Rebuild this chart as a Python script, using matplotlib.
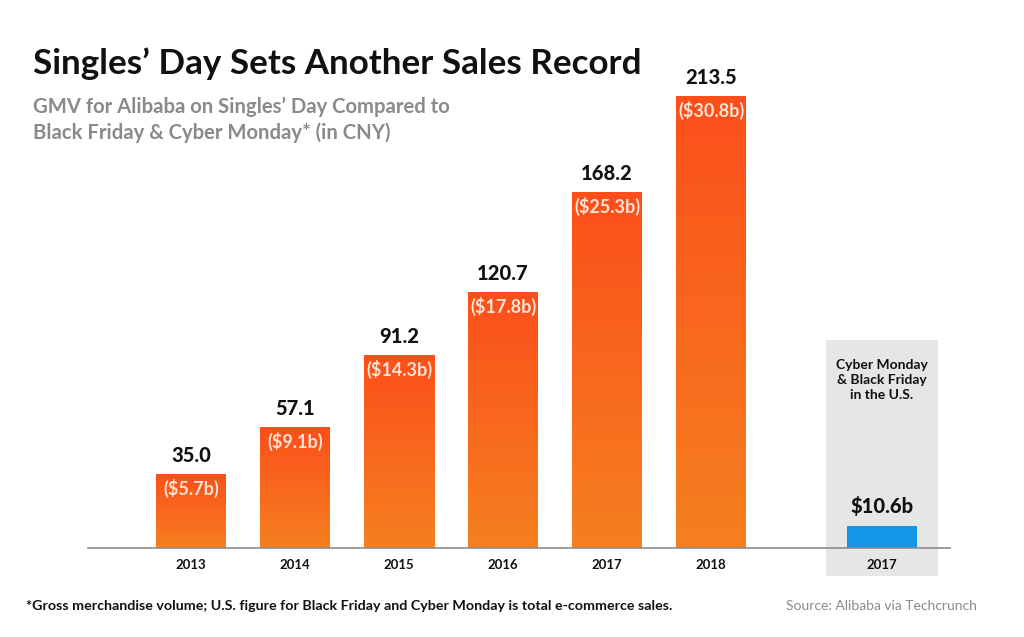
import matplotlib
matplotlib.use("Agg")
import matplotlib.pyplot as plt
import numpy as np
from matplotlib.patches import Rectangle
from matplotlib.colors import LinearSegmentedColormap

years = ["2013", "2014", "2015", "2016", "2017", "2018"]
gmv_cny = [35.0, 57.1, 91.2, 120.7, 168.2, 213.5]
gmv_usd = ["($5.7b)", "($9.1b)", "($14.3b)", "($17.8b)", "($25.3b)", "($30.8b)"]
us_year = "2017"
us_value = 10.6
us_label = "$10.6b"

W, H = 1024, 637
fig = plt.figure(figsize=(W / 100, H / 100), dpi=100)
fig.patch.set_facecolor("white")

FONT = "Lato"

def fx(px):
    return px / W

def fy(py):
    return 1 - py / H

ax_left, ax_right, ax_top, ax_bot = 88, 950, 60, 548
ax = fig.add_axes([fx(ax_left), fy(ax_bot), fx(ax_right - ax_left), (ax_bot - ax_top) / H])
ppu_x = 104.0
x0 = 191.0
ax.set_xlim((ax_left - x0) / ppu_x, (ax_right - x0) / ppu_x)
ppu_y = 2.117
ax.set_ylim(0, (ax_bot - ax_top) / ppu_y)
for s in ["top", "right", "left"]:
    ax.spines[s].set_visible(False)
ax.spines["bottom"].set_color("#8c8c8c")
ax.spines["bottom"].set_linewidth(1.2)
ax.spines["bottom"].set_zorder(5)
ax.set_yticks([])

xs = np.arange(len(years), dtype=float)
us_x = 6.64
bw = 70 / ppu_x

# gray panel
panel_x0 = (826 - x0) / ppu_x
panel_x1 = (938 - x0) / ppu_x
panel_y1 = (548 - 340) / ppu_y
panel_y0 = (548 - 576) / ppu_y
ax.add_patch(Rectangle((panel_x0, panel_y0), panel_x1 - panel_x0, panel_y1 - panel_y0,
                       facecolor="#e6e6e6", edgecolor="none", zorder=0, clip_on=False))

cmap = LinearSegmentedColormap.from_list("og", ["#f58020", "#fc4f1b"])
grad = np.linspace(0, 1, 256).reshape(-1, 1)

bars = ax.bar(xs, gmv_cny, width=bw, color="none", edgecolor="none", zorder=2)
for b, v in zip(bars, gmv_cny):
    x_l = b.get_x()
    im = ax.imshow(grad, extent=[x_l, x_l + b.get_width(), 0, v], origin="lower",
                   aspect="auto", cmap=cmap, zorder=2)
    im.set_clip_path(b)

ax.bar([us_x], [us_value], width=bw, color="#1496e6", edgecolor="none", zorder=2)

for x, v, u in zip(xs, gmv_cny, gmv_usd):
    ax.text(x, v + 4.3, f"{v:.1f}", ha="center", va="bottom", fontsize=14.5,
            fontweight="black", family=FONT, color="#111111", zorder=4)
    ax.text(x, v - 6.8, u, ha="center", va="center", fontsize=13,
            fontweight="bold", family=FONT, color="#fde3d3", zorder=4)

ax.text(us_x, us_value + 4.3, us_label, ha="center", va="bottom", fontsize=14.5,
        fontweight="black", family=FONT, color="#111111", zorder=4)
ax.text(us_x, (548 - 380) / ppu_y, "Cyber Monday\n& Black Friday\nin the U.S.", ha="center",
        va="center", fontsize=10, fontweight="bold", family=FONT, color="#111111",
        linespacing=1.3, zorder=4)

ax.set_xticks(list(xs) + [us_x])
ax.set_xticklabels(years + [us_year], fontsize=9.5, fontweight="bold", family=FONT, color="#111111")
ax.tick_params(axis="x", length=0, pad=8)
ax.set_xlim((ax_left - x0) / ppu_x, (ax_right - x0) / ppu_x)

fig.text(fx(33), fy(64), "Singles\u2019 Day Sets Another Sales Record", fontsize=25.2,
         fontweight="bold", family=FONT, color="#111111", va="center", ha="left")
fig.text(fx(33), fy(120), "GMV for Alibaba on Singles\u2019 Day Compared to\nBlack Friday & Cyber Monday* (in CNY)",
         fontsize=14.6, fontweight="bold", family=FONT, color="#8a8a8a", va="center", ha="left",
         linespacing=1.3)
fig.text(fx(26), fy(606), "*Gross merchandise volume; U.S. figure for Black Friday and Cyber Monday is total e-commerce sales.",
         fontsize=10.3, fontweight="bold", family=FONT, color="#111111", va="center", ha="left")
fig.text(fx(977), fy(606), "Source: Alibaba via Techcrunch", fontsize=10, family=FONT,
         color="#8a8a8a", va="center", ha="right")

fig.savefig("out.png", dpi=100, facecolor="white")
